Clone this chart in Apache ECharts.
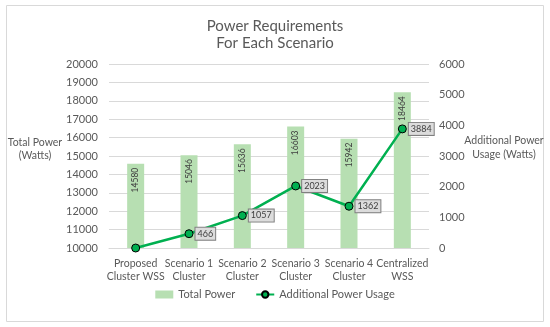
<!DOCTYPE html>
<html>
<head>
<meta charset="utf-8">
<script src="https://cdn.jsdelivr.net/npm/echarts@6/dist/echarts.min.js"></script>
<style>html,body{margin:0;padding:0;background:#fff}#c{width:550px;height:327px}</style>
</head>
<body>
<div id="c"></div>
<script>
const categories = ['Proposed\nCluster WSS', 'Scenario 1\nCluster', 'Scenario 2\nCluster', 'Scenario 3\nCluster', 'Scenario 4\nCluster', 'Centralized\nWSS'];
const totalPower = [14580, 15046, 15636, 16603, 15942, 18464];
const additionalPower = [0, 466, 1057, 2023, 1362, 3884];
const leftTicks = [10000, 20000, 1000];
const rightTicks = [0, 6000, 1000];
const leftName = ['Total Power', '(Watts)'];
const rightName = ['Additional Power', 'Usage (Watts)'];

const FONT = 'Lato';
const nameText = (t, x, y) => ({
  type: 'text', x: x, y: y,
  style: {text: t, fill: '#595959', font: '10.5px ' + FONT, align: 'center', verticalAlign: 'middle'}
});
const chart = echarts.init(document.getElementById('c'), null, {renderer: 'canvas'});
chart.setOption({
  animation: false,
  textStyle: {fontFamily: FONT},
  title: {
    text: 'Power Requirements\nFor Each Scenario',
    left: 'center', top: 13,
    textStyle: {fontFamily: FONT, fontSize: 15, fontWeight: 'normal', color: '#595959', lineHeight: 17}
  },
  graphic: [{
    type: 'rect', shape: {x: 6.5, y: 5.5, width: 537, height: 316},
    style: {fill: 'none', stroke: '#d9d9d9', lineWidth: 1}, z: -1
  },
    nameText(leftName[0], 35, 143), nameText(leftName[1], 35, 156),
    nameText(rightName[0], 504, 141), nameText(rightName[1], 504, 155)
  ],
  grid: {left: 109, right: 121, top: 64, bottom: 79, containLabel: false},
  legend: {
    bottom: 22, left: 'center', itemGap: 20,
    textStyle: {fontFamily: FONT, fontSize: 11, color: '#595959'},
    data: [
      {name: 'Total Power', icon: 'rect', itemStyle: {color: '#b7dfb2'}},
      {name: 'Additional Power Usage'}
    ],
    itemWidth: 18, itemHeight: 8
  },
  xAxis: {
    type: 'category', data: categories,
    axisLine: {lineStyle: {color: '#d9d9d9'}},
    axisTick: {show: false},
    axisLabel: {color: '#595959', fontSize: 10.5, fontFamily: FONT, lineHeight: 13, margin: 9, interval: 0}
  },
  yAxis: [{
    type: 'value', min: leftTicks[0], max: leftTicks[1], interval: leftTicks[2],
    axisLine: {show: false}, axisTick: {show: false},
    axisLabel: {color: '#595959', fontSize: 11, fontFamily: FONT, margin: 11, formatter: v => String(v)},
    splitLine: {lineStyle: {color: '#d9d9d9'}}
  }, {
    type: 'value', min: rightTicks[0], max: rightTicks[1], interval: rightTicks[2],
    axisLine: {show: false}, axisTick: {show: false},
    axisLabel: {color: '#595959', fontSize: 11, fontFamily: FONT, margin: 10, formatter: v => String(v)},
    splitLine: {show: false}
  }],
  series: [{
    name: 'Total Power', type: 'bar', data: totalPower, barWidth: 17,
    itemStyle: {color: '#b7dfb2'},
    label: {
      show: true, position: 'insideTop', rotate: 90, align: 'right', verticalAlign: 'middle',
      distance: 4, color: '#404040', fontSize: 8.5, fontFamily: FONT
    }
  }, {
    name: 'Additional Power Usage', type: 'line', yAxisIndex: 1,
    data: additionalPower.map(v => v === 0 ? {value: v, label: {show: false}} : v),
    lineStyle: {color: '#00b050', width: 2.5},
    itemStyle: {color: '#00b050', borderColor: '#000', borderWidth: 1},
    symbol: 'circle', symbolSize: 8, z: 5,
    label: {
      show: true, position: 'right', distance: 2,
      color: '#404040', fontSize: 9, fontFamily: FONT,
      backgroundColor: '#dcdcdc', borderColor: '#7f7f7f', borderWidth: 1,
      padding: [2, 2, 1, 2]
    }
  }]
});
</script>
</body>
</html>
